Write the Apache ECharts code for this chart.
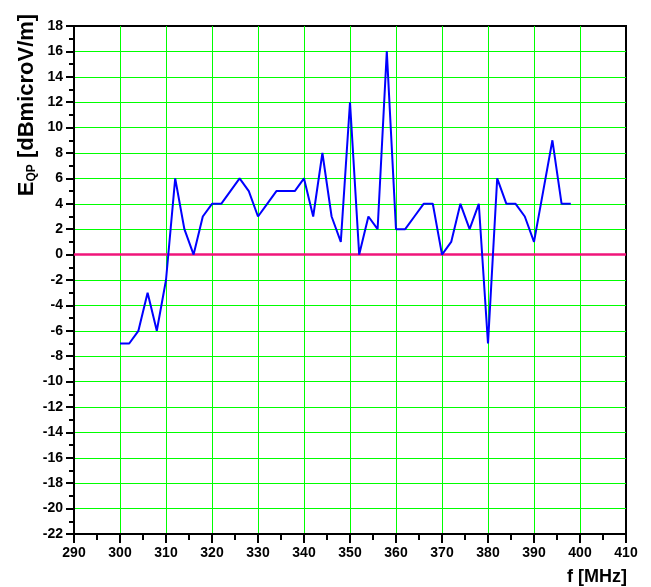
<!DOCTYPE html>
<html>
<head>
<meta charset="utf-8">
<script src="https://cdn.jsdelivr.net/npm/echarts@6/dist/echarts.min.js"></script>
<style>
html,body{margin:0;padding:0;background:#fff;}
#chart{width:651px;height:587px;}
</style>
</head>
<body>
<div id="chart"></div>
<script>
// Measured frequencies (MHz)
const freqs = [300,302,304,306,308,310,312,314,316,318,320,322,324,326,328,330,332,334,336,338,
               340,342,344,346,348,350,352,354,356,358,360,362,364,366,368,370,372,374,376,378,
               380,382,384,386,388,390,392,394,396,398];
// Quasi-peak field strength (dBmicroV/m)
const eqp = [-7,-7,-6,-3,-6,-2,6,2,0,3,4,4,5,6,5,3,4,5,5,5,
             6,3,8,3,1,12,0,3,2,16,2,2,3,4,4,0,1,4,2,4,
             -7,6,4,4,3,1,5,9,4,4];
// Limit / reference line
const refFreqs = [290, 410];
const refVals = [0, 0];

const FONT = "'Liberation Sans', Arial, sans-serif";
const chart = echarts.init(document.getElementById('chart'), null, {renderer: 'canvas'});
chart.setOption({
  animation: false,
  backgroundColor: '#fff',
  grid: {left: 74, right: 25, top: 26, bottom: 53, show: true, borderColor: '#000', borderWidth: 2, backgroundColor: 'transparent'},
  xAxis: {
    type: 'value', min: 290, max: 410, interval: 10,
    axisLine: {show: true, onZero: false, lineStyle: {color: '#000', width: 2}},
    axisTick: {show: true, inside: false, length: 9, lineStyle: {color: '#000', width: 2}},
    minorTick: {show: true, splitNumber: 2, length: 6, lineStyle: {color: '#000', width: 2}},
    splitLine: {show: true, showMinLine: false, showMaxLine: false, lineStyle: {color: '#00ff00', width: 1}},
    axisLabel: {color: '#000', fontFamily: FONT, fontWeight: 'bold', fontSize: 14, margin: 12}
  },
  yAxis: {
    type: 'value', min: -22, max: 18, interval: 2,
    axisLine: {show: true, onZero: false, lineStyle: {color: '#000', width: 2}},
    axisTick: {show: true, inside: false, length: 8, lineStyle: {color: '#000', width: 2}},
    minorTick: {show: true, splitNumber: 2, length: 5, lineStyle: {color: '#000', width: 2}},
    splitLine: {show: true, showMinLine: false, showMaxLine: false, lineStyle: {color: '#00ff00', width: 1}},
    axisLabel: {color: '#000', fontFamily: FONT, fontWeight: 'bold', fontSize: 14, margin: 11}
  },
  graphic: [
    {
      type: 'text', x: 25, y: 105, rotation: Math.PI / 2,
      style: {
        text: '{a|E}{b|QP}{a| [dBmicroV/m]}',
        align: 'center', verticalAlign: 'middle',
        fill: '#000',
        rich: {
          a: {fontFamily: FONT, fontWeight: 'bold', fontSize: 22, fill: '#000', lineHeight: 26, verticalAlign: 'bottom'},
          b: {fontFamily: FONT, fontWeight: 'bold', fontSize: 12, fill: '#000', lineHeight: 26, verticalAlign: 'bottom'}
        }
      }
    },
    {
      type: 'text', x: 627, y: 577,
      style: {text: 'f [MHz]', align: 'right', verticalAlign: 'middle', fill: '#000',
        fontFamily: FONT, fontWeight: 'bold', fontSize: 18}
    }
  ],
  series: [
    {
      type: 'line', data: refFreqs.map((f, i) => [f, refVals[i]]),
      symbol: 'none', lineStyle: {color: '#f0157a', width: 2.5}, z: 3, silent: true
    },
    {
      type: 'line', data: freqs.map((f, i) => [f, eqp[i]]),
      symbol: 'none', lineStyle: {color: '#0000ff', width: 2}, z: 4, silent: true
    }
  ]
});
</script>
</body>
</html>
